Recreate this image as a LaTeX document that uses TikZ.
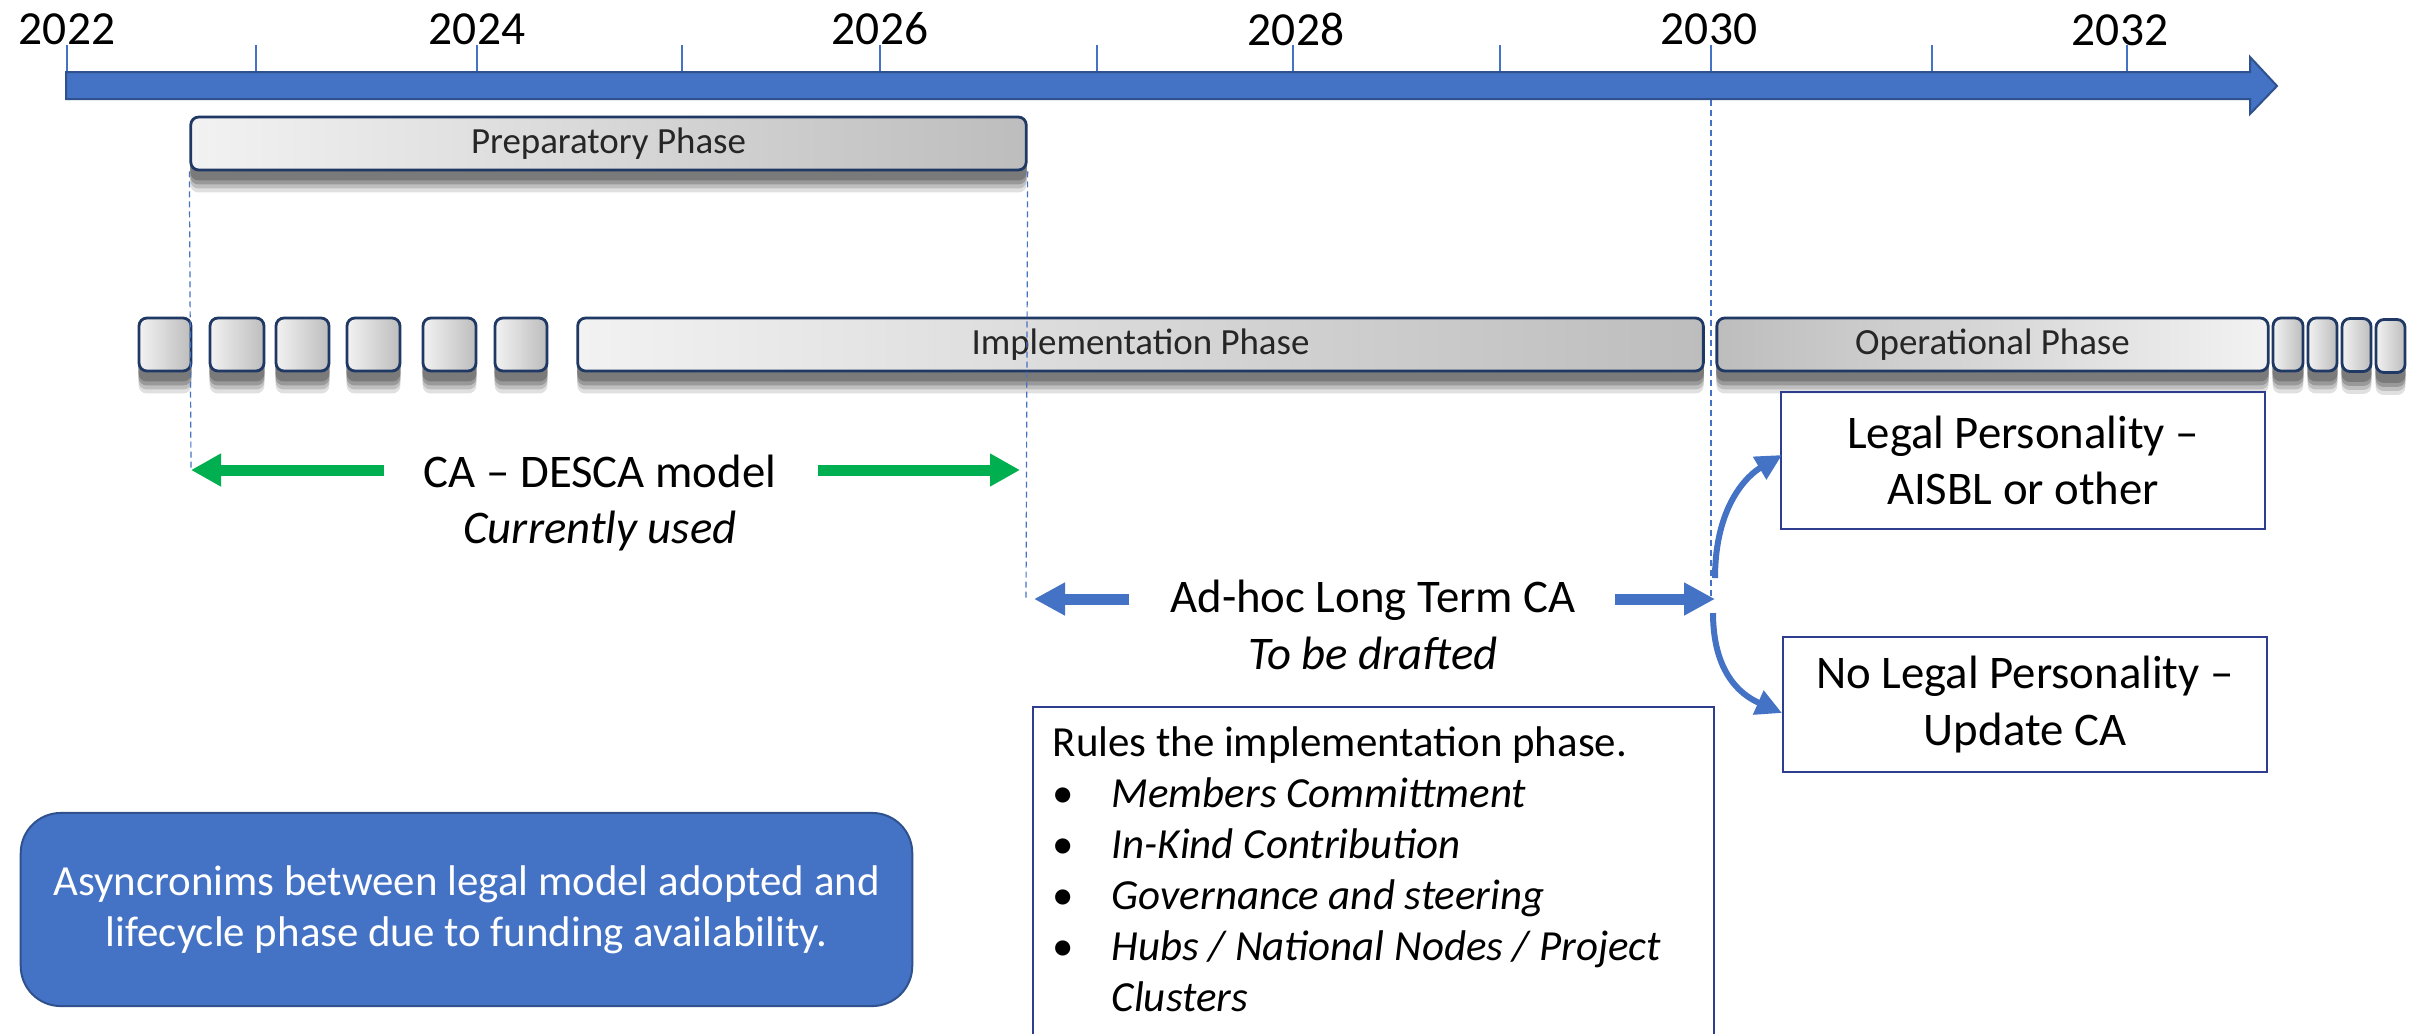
\documentclass[tikz,border=0pt]{standalone}
\usepackage{fontspec}
\setmainfont{Carlito}
\usetikzlibrary{arrows.meta,backgrounds}
\definecolor{tlblue}{HTML}{4472C4}
\definecolor{tlborder}{HTML}{2F528F}
\definecolor{navy}{HTML}{1F3864}
\definecolor{cagreen}{HTML}{00B050}
\definecolor{boxline}{HTML}{2F3D8F}
\definecolor{phlight}{HTML}{F2F2F2}
\definecolor{phdark}{HTML}{BDBDBD}
\tikzset{
 phasebox/.style={draw=navy, line width=0.028cm, rounded corners=0.08cm, minimum height=0.53cm, inner sep=0pt,
   font=\fontsize{10.5}{12}\selectfont, text=black!85},
 ltr/.style={left color=phlight, right color=phdark},
 rtl/.style={left color=phdark, right color=phlight},
 year/.style={font=\fontsize{13.5}{16}\selectfont, inner sep=0pt},
 tickline/.style={draw=tlblue, line width=0.012cm},
 guide/.style={draw=tlblue, line width=0.012cm, dash pattern=on 0.06cm off 0.04cm},
 big/.style={font=\fontsize{13.3}{16}\selectfont, align=center, inner sep=0pt},
 greenarrow/.style={draw=cagreen, line width=0.11cm, -{Triangle[width=0.31cm,length=0.3cm]}},
 bluearrow/.style={draw=tlblue, line width=0.11cm, -{Triangle[width=0.31cm,length=0.31cm]}},
 curvearrow/.style={draw=tlblue, line width=0.06cm, -{Triangle[width=0.25cm,length=0.26cm]}},
 lpbox/.style={draw=boxline, line width=0.02cm, inner sep=0pt, align=center, font=\fontsize{13.3}{16}\selectfont, minimum width=4.84cm},
}
\begin{document}
\begin{tikzpicture}[x=0.01cm, y=-0.01cm]
\useasboundingbox (0,0) rectangle (2419,1033);
\clip (0,0) rectangle (2419,1033);

% timeline ticks and years
\foreach \xx in {67,256,477,682,880,1097,1293,1500,1711,1932,2127}
  \draw[tickline] (\xx,45) -- (\xx,100);
\node[year] (y2022) at (67,29) {2022};
\node[year] (y2024) at (477,29) {2024};
\node[year] (y2026) at (880,29) {2026};
\node[year] (y2028) at (1296,29) {2028};
\node[year] (y2030) at (1709,29) {2030};
\node[year] (y2032) at (2120,30) {2032};

% timeline bar
\draw[fill=tlblue, draw=tlborder, line width=0.02cm] (66,72) -- (2250,72) -- (2250,57) -- (2277,86) -- (2250,114) -- (2250,99) -- (66,99) -- cycle;

% guide coordinates
\coordinate (gLt) at (191,470);
\coordinate (gLs) at (384,470);
\coordinate (gRs) at (818,470);
\coordinate (gRt) at (1020,470);
\coordinate (bLs) at (1129,599);
\coordinate (bLt) at (1034,599);
\coordinate (bRs) at (1615,599);
\coordinate (bRt) at (1715,599);
\coordinate (g30a) at (1711,100);
\coordinate (g30b) at (1711,600);
\coordinate (g26b) at (1026,600);

% preparatory phase
\node[phasebox, ltr, minimum width=8.35cm] (prep) at (608.5,143.5) {Preparatory Phase};

% phase row
\node[phasebox, ltr, minimum width=0.52cm] (s1) at (165,344.5) {};
\node[phasebox, ltr, minimum width=0.54cm] (s2) at (237,344.5) {};
\node[phasebox, ltr, minimum width=0.53cm] (s3) at (302.5,344.5) {};
\node[phasebox, ltr, minimum width=0.53cm] (s4) at (373.5,344.5) {};
\node[phasebox, ltr, minimum width=0.53cm] (s5) at (449.5,344.5) {};
\node[phasebox, ltr, minimum width=0.52cm] (s6) at (521,344.5) {};
\node[phasebox, ltr, minimum width=11.25cm] (impl) at (1140.5,344.5) {Implementation Phase};
\node[phasebox, rtl, minimum width=5.51cm] (oper) at (1992.5,344.5) {Operational Phase};
\node[phasebox, ltr, minimum width=0.30cm] (r1) at (2288,344.5) {};
\node[phasebox, ltr, minimum width=0.29cm] (r2) at (2322.5,344.5) {};
\node[phasebox, ltr, minimum width=0.29cm] (r3) at (2356.5,345) {};
\node[phasebox, ltr, minimum width=0.29cm] (r4) at (2390.5,346) {};

% soft shadows behind the phase boxes
\begin{scope}[on background layer]
\fill[white] (0,0) rectangle (2419,1033);
\foreach \n in {prep,s1,s2,s3,s4,s5,s6,impl,oper,r1,r2,r3,r4}{
  \foreach \d/\c in {0.21/12, 0.17/25, 0.13/40, 0.09/52}{
    \fill[black!\c, rounded corners=0.08cm] ([yshift=-\d cm, xshift=0.01cm]\n.north west) rectangle ([yshift=-\d cm, xshift=-0.01cm]\n.south east);
  }
}
\end{scope}

% dashed guides
\draw[guide] (prep.south west) -- (gLt);
\draw[guide] (prep.south east) -- (g26b);
\draw[guide] (g30a) -- (g30b);

% CA - DESCA
\node[big] (ca) at (600,503) {CA – DESCA model\\\textit{Currently used}};
\draw[greenarrow] (gLs) -- (gLt);
\draw[greenarrow] (gRs) -- (gRt);

% Ad-hoc
\node[big] (adhoc) at (1373,625) {Ad-hoc Long Term CA\\\textit{To be drafted}};
\draw[bluearrow] (bLs) -- (bLt);
\draw[bluearrow] (bRs) -- (bRt);

% legal boxes
\node[lpbox, minimum height=1.37cm] (lp) at (2023,460.5) {Legal Personality –\\AISBL or other};
\node[lpbox, minimum height=1.35cm] (nlp) at (2025,704.5) {No Legal Personality –\\Update CA};
\coordinate (cUs) at (1715,578);
\coordinate (cUt) at (1782,455);
\coordinate (cDs) at (1713,613);
\coordinate (cDt) at (1782,713);
\draw[curvearrow] (cUs) .. controls (1715,505) and (1748,475) .. (cUt);
\draw[curvearrow] (cDs) .. controls (1713,680) and (1748,698) .. (cDt);

% rules box
\node[draw=boxline, line width=0.02cm, anchor=north west, minimum width=6.81cm, minimum height=3.8cm, inner sep=0pt] (rulesbox) at (1032,706) {};
\node[anchor=north west, inner sep=0pt, align=left] (rules) at (1052,720) {\fontsize{12.2}{14.5}\selectfont
\begin{tabular}{@{}p{0.59cm}@{}l@{}}
\multicolumn{2}{@{}l@{}}{Rules the implementation phase.}\\
\textbullet & \textit{Members Committment}\\
\textbullet & \textit{In-Kind Contribution}\\
\textbullet & \textit{Governance and steering}\\
\textbullet & \textit{Hubs / National Nodes / Project}\\
 & \textit{Clusters}
\end{tabular}};

% async box
\node[fill=tlblue, draw=tlborder, line width=0.02cm, rounded corners=0.4cm, minimum width=8.91cm, minimum height=1.93cm,
  text=white, align=center, font=\fontsize{12.2}{14.5}\selectfont] (async) at (466.5,909.5)
  {Asyncronims between legal model adopted and\\lifecycle phase due to funding availability.};
\end{tikzpicture}
\end{document}
